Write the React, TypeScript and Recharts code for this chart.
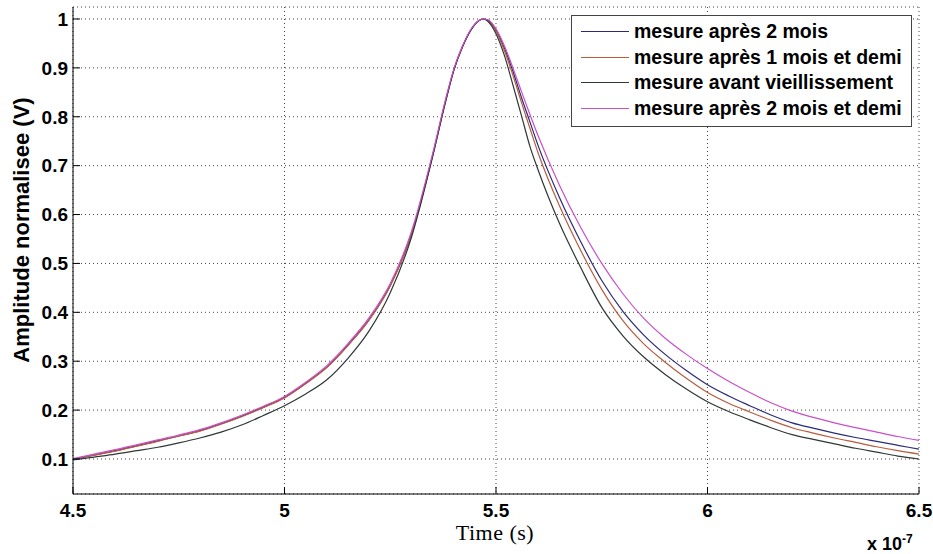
import { LineChart, Line, XAxis, YAxis, CartesianGrid } from "recharts";

// time axis, in units of 1e-7 s
const times = [
  4.5, 4.55, 4.6, 4.65, 4.7, 4.75, 4.8, 4.85, 4.9, 4.95, 5.0, 5.05, 5.1, 5.15,
  5.2, 5.25, 5.3, 5.35, 5.38, 5.4, 5.42, 5.44, 5.46, 5.47, 5.48, 5.5, 5.52,
  5.54, 5.56, 5.58, 5.6, 5.65, 5.7, 5.75, 5.8, 5.85, 5.9, 5.95, 6.0, 6.05, 6.1,
  6.15, 6.2, 6.25, 6.3, 6.35, 6.4, 6.45, 6.5,
];

const apres2Mois = [
  0.1, 0.108, 0.117, 0.127, 0.137, 0.147, 0.158, 0.172, 0.188, 0.206, 0.226,
  0.255, 0.288, 0.333, 0.385, 0.455, 0.56, 0.72, 0.83, 0.895, 0.942, 0.977,
  0.997, 1.0, 0.998, 0.978, 0.94, 0.893, 0.84, 0.79, 0.74, 0.635, 0.545, 0.465,
  0.402, 0.353, 0.314, 0.281, 0.252, 0.229, 0.209, 0.19, 0.174, 0.163, 0.153,
  0.144, 0.136, 0.128, 0.12,
];

const apres1MoisEtDemi = [
  0.1, 0.108, 0.116, 0.126, 0.136, 0.147, 0.157, 0.171, 0.187, 0.205, 0.225,
  0.254, 0.287, 0.332, 0.384, 0.454, 0.558, 0.719, 0.829, 0.895, 0.942, 0.977,
  0.997, 1.0, 0.997, 0.975, 0.935, 0.885, 0.83, 0.777, 0.725, 0.618, 0.527,
  0.447, 0.383, 0.335, 0.298, 0.265, 0.236, 0.214, 0.196, 0.179, 0.164, 0.153,
  0.143, 0.134, 0.125, 0.117, 0.11,
];

const avantVieillissement = [
  0.098, 0.104, 0.11, 0.117, 0.124, 0.133, 0.143, 0.155, 0.17, 0.189, 0.209,
  0.233, 0.262, 0.306, 0.362, 0.44, 0.553, 0.718, 0.828, 0.894, 0.941, 0.976,
  0.997, 1.0, 0.996, 0.97, 0.925, 0.865, 0.803, 0.74, 0.69, 0.582, 0.492, 0.41,
  0.352, 0.308, 0.273, 0.243, 0.217, 0.197, 0.18, 0.164, 0.15, 0.14, 0.131,
  0.122, 0.114, 0.106, 0.1,
];

const apres2MoisEtDemi = [
  0.101, 0.11, 0.119, 0.129, 0.139, 0.149, 0.16, 0.174, 0.19, 0.208, 0.228,
  0.257, 0.291, 0.336, 0.389, 0.459, 0.565, 0.724, 0.833, 0.897, 0.943, 0.978,
  0.997, 1.0, 0.999, 0.98, 0.945, 0.9, 0.852, 0.805, 0.76, 0.66, 0.574, 0.5,
  0.438, 0.387, 0.347, 0.314, 0.285, 0.259, 0.236, 0.215, 0.198, 0.185, 0.174,
  0.164, 0.155, 0.146, 0.138,
];

const seriesNames = [
  "mesure après 2 mois",
  "mesure après 1 mois et demi",
  "mesure avant vieillissement",
  "mesure après 2 mois et demi",
];
const seriesColors = ["#2a2a7c", "#b85c3c", "#2e3835", "#c850c8"];

const xTicks = [4.5, 5, 5.5, 6, 6.5];
const yTicks = [0.1, 0.2, 0.3, 0.4, 0.5, 0.6, 0.7, 0.8, 0.9, 1];

const data = times.map((t, i) => ({
  t,
  s0: apres2Mois[i],
  s1: apres1MoisEtDemi[i],
  s2: avantVieillissement[i],
  s3: apres2MoisEtDemi[i],
}));

const sans = "'Liberation Sans', Arial, sans-serif";
const tickStyle = { fill: "#000", fontSize: 19, fontWeight: "bold", fontFamily: sans };
const yFmt = (v: number) => String(Math.round(v * 10) / 10);

export default function App() {
  return (
    <div style={{ position: "absolute", left: 0, top: 0, width: 933, height: 554, background: "#fff" }}>
      <LineChart
        width={933}
        height={554}
        data={data}
        margin={{ top: 7, right: 14, left: 0, bottom: 0 }}
      >
        <CartesianGrid stroke="#444" strokeDasharray="1 3" />
        <XAxis
          dataKey="t"
          type="number"
          domain={[4.5, 6.5]}
          ticks={xTicks}
          allowDataOverflow
          height={60}
          tickSize={-7}
          tickMargin={17}
          tick={tickStyle}
          axisLine={{ stroke: "#000" }}
          tickLine={{ stroke: "#000" }}
        />
        <XAxis
          xAxisId="top"
          orientation="top"
          dataKey="t"
          type="number"
          domain={[4.5, 6.5]}
          ticks={xTicks}
          allowDataOverflow
          height={0}
          tickSize={-7}
          tickFormatter={() => ""}
          axisLine={{ stroke: "#000" }}
          tickLine={{ stroke: "#000" }}
        />
        <YAxis
          type="number"
          domain={[0.0284, 1.0245]}
          ticks={yTicks}
          allowDataOverflow
          width={73}
          tickSize={-7}
          tickMargin={12}
          tick={tickStyle}
          tickFormatter={yFmt}
          axisLine={{ stroke: "#000" }}
          tickLine={{ stroke: "#000" }}
        />
        <YAxis
          yAxisId="right"
          orientation="right"
          type="number"
          domain={[0.0284, 1.0245]}
          ticks={yTicks}
          allowDataOverflow
          width={0}
          tickSize={-7}
          tickFormatter={() => ""}
          axisLine={{ stroke: "#000" }}
          tickLine={{ stroke: "#000" }}
        />
        {["s0", "s1", "s2", "s3"].map((k, i) => (
          <Line
            key={k}
            dataKey={k}
            name={seriesNames[i]}
            type="monotone"
            stroke={seriesColors[i]}
            strokeWidth={1.2}
            dot={false}
            isAnimationActive={false}
          />
        ))}
      </LineChart>

      {/* legend box */}
      <div
        style={{
          position: "absolute",
          left: 571,
          top: 15,
          width: 341,
          height: 112,
          border: "1px solid #444",
          background: "#fff",
          paddingTop: 3,
          boxSizing: "border-box",
        }}
      >
        {seriesNames.map((name, i) => (
          <div key={name} style={{ display: "flex", alignItems: "center", height: 25.5 }}>
            <div style={{ marginLeft: 9, width: 48, height: 0, borderTop: `1.3px solid ${seriesColors[i]}` }} />
            <span style={{ marginLeft: 5, fontFamily: sans, fontWeight: "bold", fontSize: 19.5, color: "#000", whiteSpace: "nowrap" }}>
              {name}
            </span>
          </div>
        ))}
      </div>

      {/* y title */}
      <div
        style={{
          position: "absolute",
          left: 22,
          top: 230,
          transform: "translate(-50%, -50%) rotate(-90deg)",
          fontFamily: sans,
          fontWeight: "bold",
          fontSize: 22,
          whiteSpace: "nowrap",
          color: "#000",
        }}
      >
        Amplitude normalisee (V)
      </div>

      {/* x title */}
      <div
        style={{
          position: "absolute",
          left: 495,
          top: 533,
          transform: "translate(-50%, -50%)",
          fontFamily: "'Liberation Serif', 'Times New Roman', serif",
          fontSize: 22,
          letterSpacing: 0.5,
          whiteSpace: "nowrap",
          color: "#000",
        }}
      >
        Time (s)
      </div>

      {/* exponent */}
      <div
        style={{
          position: "absolute",
          left: 867,
          top: 532,
          fontFamily: sans,
          fontWeight: "bold",
          fontSize: 18,
          whiteSpace: "nowrap",
          color: "#000",
        }}
      >
        x 10<sup style={{ fontSize: 12 }}>-7</sup>
      </div>
    </div>
  );
}
